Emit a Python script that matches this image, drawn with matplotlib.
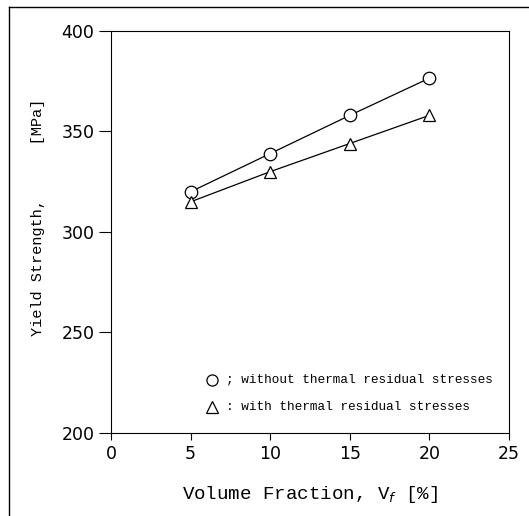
import matplotlib
matplotlib.use("Agg")
import matplotlib.pyplot as plt
from matplotlib.lines import Line2D

# ------------------------------
# DATA
# ------------------------------
vf = [5, 10, 15, 20]
ys_without = [320, 339, 358, 376.5]
ys_with = [315, 330, 344, 358]
xticks = [0, 5, 10, 15, 20, 25]
yticks = [200, 250, 300, 350, 400]

# ------------------------------
# PLOT
# ------------------------------
fig = plt.figure(figsize=(5.29, 5.16), dpi=100)
ax = fig.add_axes([0.210, 0.161, 0.752, 0.779])

ax.plot(vf, ys_without, color="black", lw=0.9, marker="o", ms=9,
        mfc="white", mec="black", mew=0.9)
ax.plot(vf, ys_with, color="black", lw=0.9, marker="^", ms=8,
        mfc="white", mec="black", mew=0.9)

ax.set_xlim(0, 25)
ax.set_ylim(200, 400)
ax.set_xticks(xticks)
ax.set_yticks(yticks)
ax.tick_params(axis="x", direction="out", length=5, width=0.8, pad=4, labelsize=12.5)
ax.tick_params(axis="y", direction="out", length=9, width=0.8, pad=3, labelsize=12.5)
for s in ax.spines.values():
    s.set_linewidth(0.8)

mono = ["Liberation Mono", "DejaVu Sans Mono"]
ax.set_xlabel("Volume Fraction, V$_f$ [%]", fontsize=13.8, family=mono, labelpad=15)
ax.set_ylabel("Yield Strength,      [MPa]", fontsize=11, family=mono)
ax.yaxis.set_label_coords(-0.166, 0.535)

# legend written inside the plot, symbol + text
ax.plot([6.34], [226.4], marker="o", ms=8, mfc="white", mec="black", mew=0.9,
        clip_on=False)
ax.plot([6.34], [212.9], marker="^", ms=8, mfc="white", mec="black", mew=0.9,
        clip_on=False)
ax.text(7.2, 226.4, "; without thermal residual stresses", fontsize=9.2,
        family=mono, va="center")
ax.text(7.2, 212.9, ": with thermal residual stresses", fontsize=9.2,
        family=mono, va="center")

# outer frame of the scanned figure (top and left edges)
fig.add_artist(Line2D([0.017, 0.017], [0.0, 0.986], transform=fig.transFigure,
                      color="black", lw=1.0))
fig.add_artist(Line2D([0.017, 1.0], [0.986, 0.986], transform=fig.transFigure,
                      color="black", lw=1.0))

fig.savefig("out.png", dpi=100)
